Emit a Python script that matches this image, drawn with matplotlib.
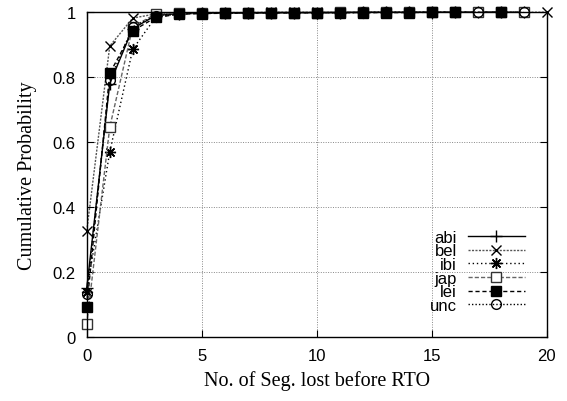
import matplotlib
matplotlib.use("Agg")
import matplotlib.pyplot as plt

# CDF of number of segments lost before RTO, per site
x_abi = list(range(0, 20))
abi = [0.15, 0.78, 0.95, 0.99, 0.996, 0.997, 0.998, 0.998, 0.999, 0.999,
       0.999, 0.999, 1.0, 1.0, 1.0, 1.0, 1.0, 1.0, 1.0, 1.0]
x_bel = list(range(0, 21))
bel = [0.327, 0.896, 0.982, 0.995, 0.998, 0.999, 0.999, 0.999, 1.0, 1.0,
       1.0, 1.0, 1.0, 1.0, 1.0, 1.0, 1.0, 1.0, 1.0, 1.0, 1.0]
x_ibi = list(range(0, 20))
ibi = [0.14, 0.57, 0.886, 0.985, 0.995, 0.997, 0.998, 0.998, 0.999, 0.999,
       0.999, 0.999, 0.999, 1.0, 1.0, 1.0, 1.0, 1.0, 1.0, 1.0]
x_jap = list(range(0, 20))
jap = [0.04, 0.646, 0.955, 0.995, 0.997, 0.998, 0.998, 0.999, 0.999, 0.999,
       0.999, 1.0, 1.0, 1.0, 1.0, 1.0, 1.0, 1.0, 1.0, 1.0]
x_lei = list(range(0, 17)) + [18]
lei = [0.092, 0.812, 0.943, 0.984, 0.994, 0.996, 0.997, 0.998, 0.998, 0.998,
       0.999, 0.999, 0.999, 0.999, 0.999, 1.0, 1.0, 1.0]
x_unc = list(range(0, 20))
unc = [0.132, 0.79, 0.955, 0.99, 0.996, 0.997, 0.998, 0.998, 0.999, 0.999,
       0.999, 0.999, 1.0, 1.0, 1.0, 1.0, 1.0, 1.0, 1.0, 1.0]

sans = ['Liberation Sans', 'DejaVu Sans']
serif = ['Liberation Serif', 'DejaVu Serif']
plt.rcParams['font.family'] = sans

fig = plt.figure(figsize=(5.67, 4.02), dpi=100)
ax = fig.add_axes([0.153, 0.159, 0.811, 0.808])

common = dict(lw=1.0, mew=1.0, clip_on=False)
ax.plot(x_abi, abi, color='black', ls='-', marker='+', ms=8, label='abi', **common)
ax.plot(x_bel, bel, color='#555555', ls=(0, (1.5, 1)), marker='x', ms=7,
        mec='black', label='bel', **common)
ax.plot(x_ibi, ibi, color='black', ls=(0, (1, 2)), marker=(8, 2, 0), ms=8,
        label='ibi', **common)
ax.plot(x_jap, jap, color='#666666', ls=(0, (3, 1.5)), marker='s', ms=7,
        mfc='white', mec='#333333', label='jap', **common)
ax.plot(x_lei, lei, color='black', ls=(0, (3, 2)), marker='s', ms=7.5,
        mfc='black', mec='black', label='lei', **common)
ax.plot(x_unc, unc, color='black', ls=(0, (1, 1.5)), marker='o', ms=7,
        mfc='none', mec='black', label='unc', **common)

ax.set_xlim(0, 20)
ax.set_ylim(0, 1)
ax.set_xticks([0, 5, 10, 15, 20])
ax.set_yticks([0, 0.2, 0.4, 0.6, 0.8, 1])
ax.set_yticklabels(['0', '0.2', '0.4', '0.6', '0.8', '1'])
ax.tick_params(direction='in', length=5, width=0.8, top=True, right=True,
               labelsize=12, pad=8)
ax.grid(True, color='#888888', ls=(0, (1, 1.5)), lw=0.7)
for sp in ax.spines.values():
    sp.set_linewidth(1.0)

ax.set_xlabel('No. of Seg. lost before RTO', fontsize=14.5, family=serif, labelpad=5)
ax.set_ylabel('Cumulative Probability', fontsize=14.5, family=serif, labelpad=11)

ax.legend(loc='lower right', bbox_to_anchor=(0.952, 0.074), frameon=False,
          markerfirst=False, fontsize=12, borderpad=0, borderaxespad=0,
          handlelength=3.4, handletextpad=0.65, labelspacing=-0.08)

fig.savefig('out.png', dpi=100)
